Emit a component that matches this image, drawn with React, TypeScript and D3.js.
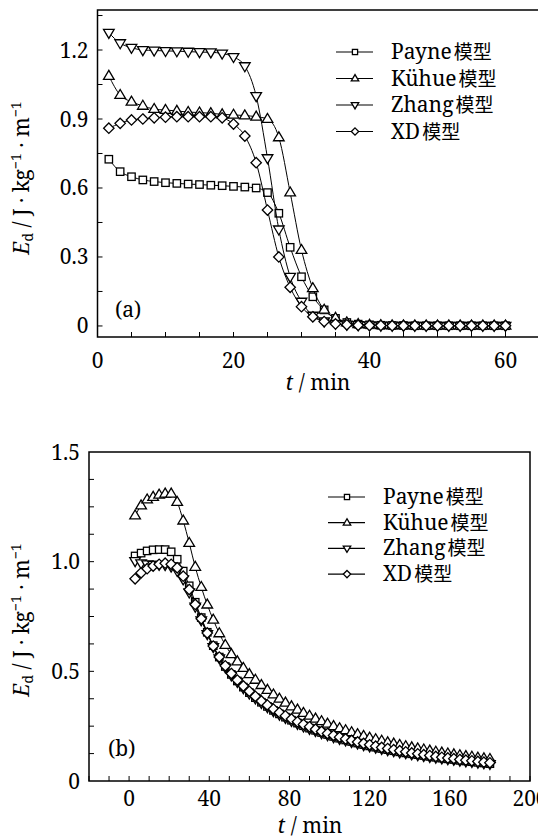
import React from "react";
import * as d3 from "d3";

// ---------- Panel (a) data: t = k*100 s (k = 1..36), in minutes ----------
const stepsA = d3.range(1, 37);
const timeA = stepsA.map((k) => (k * 100) / 60);
const payneA = [0.725, 0.671, 0.649, 0.635, 0.628, 0.623, 0.620, 0.617, 0.615, 0.612, 0.610, 0.607, 0.604, 0.600, 0.580, 0.490, 0.342, 0.214, 0.127, 0.070, 0.033, 0.015, 0.008, 0.005, 0.003, 0.002, 0.002, 0.001, 0.001, 0.001, 0.001, 0.001, 0.001, 0.001, 0.001, 0.001];
const kuhueA = [1.087, 1.004, 0.975, 0.957, 0.943, 0.939, 0.935, 0.930, 0.928, 0.925, 0.920, 0.918, 0.915, 0.910, 0.900, 0.820, 0.580, 0.330, 0.164, 0.070, 0.035, 0.015, 0.008, 0.005, 0.003, 0.002, 0.002, 0.001, 0.001, 0.001, 0.001, 0.001, 0.001, 0.001, 0.001, 0.001];
const zhangA = [1.275, 1.230, 1.210, 1.200, 1.198, 1.196, 1.195, 1.193, 1.191, 1.190, 1.185, 1.170, 1.130, 1.000, 0.730, 0.420, 0.214, 0.106, 0.045, 0.020, 0.010, 0.006, 0.004, 0.003, 0.002, 0.002, 0.001, 0.001, 0.001, 0.001, 0.001, 0.001, 0.001, 0.001, 0.001, 0.001];
const xdA = [0.860, 0.881, 0.896, 0.900, 0.905, 0.908, 0.910, 0.910, 0.910, 0.910, 0.905, 0.878, 0.826, 0.710, 0.504, 0.300, 0.168, 0.084, 0.040, 0.019, 0.009, 0.005, 0.003, 0.002, 0.002, 0.001, 0.001, 0.001, 0.001, 0.001, 0.001, 0.001, 0.001, 0.001, 0.001, 0.001];

// ---------- Panel (b) data: t = 3..180 min ----------
const timeB = d3.range(3, 181, 3);
const payneB = [1.026, 1.039, 1.049, 1.054, 1.055, 1.055, 1.045, 1.011, 0.957, 0.890, 0.815, 0.745, 0.678, 0.617, 0.565, 0.522, 0.486, 0.456, 0.428, 0.403, 0.380, 0.359, 0.340, 0.322, 0.306, 0.291, 0.277, 0.264, 0.252, 0.241, 0.231, 0.221, 0.212, 0.203, 0.195, 0.187, 0.180, 0.173, 0.166, 0.160, 0.154, 0.148, 0.143, 0.138, 0.133, 0.128, 0.124, 0.120, 0.116, 0.112, 0.108, 0.104, 0.101, 0.098, 0.094, 0.091, 0.088, 0.085, 0.082, 0.079];
const kuhueB = [1.210, 1.256, 1.283, 1.295, 1.305, 1.310, 1.310, 1.272, 1.187, 1.085, 0.976, 0.884, 0.804, 0.735, 0.673, 0.620, 0.578, 0.545, 0.515, 0.487, 0.461, 0.437, 0.415, 0.394, 0.375, 0.357, 0.340, 0.325, 0.310, 0.297, 0.284, 0.272, 0.261, 0.250, 0.240, 0.231, 0.222, 0.213, 0.205, 0.197, 0.190, 0.183, 0.176, 0.170, 0.164, 0.158, 0.153, 0.148, 0.143, 0.138, 0.133, 0.129, 0.125, 0.121, 0.117, 0.113, 0.110, 0.106, 0.103, 0.100];
const zhangB = [1.003, 0.993, 0.988, 0.986, 0.986, 0.985, 0.978, 0.958, 0.920, 0.860, 0.795, 0.733, 0.670, 0.611, 0.560, 0.518, 0.482, 0.452, 0.424, 0.399, 0.377, 0.356, 0.337, 0.319, 0.303, 0.288, 0.274, 0.261, 0.249, 0.238, 0.228, 0.218, 0.209, 0.200, 0.192, 0.185, 0.178, 0.171, 0.164, 0.158, 0.152, 0.147, 0.141, 0.136, 0.131, 0.127, 0.122, 0.118, 0.114, 0.110, 0.107, 0.103, 0.100, 0.097, 0.093, 0.090, 0.087, 0.084, 0.081, 0.078];
const xdB = [0.922, 0.949, 0.968, 0.980, 0.988, 0.993, 0.988, 0.972, 0.934, 0.873, 0.805, 0.740, 0.675, 0.615, 0.565, 0.525, 0.490, 0.460, 0.433, 0.409, 0.386, 0.365, 0.346, 0.328, 0.312, 0.297, 0.283, 0.270, 0.258, 0.247, 0.236, 0.226, 0.217, 0.208, 0.200, 0.192, 0.185, 0.178, 0.171, 0.165, 0.159, 0.153, 0.148, 0.143, 0.138, 0.133, 0.128, 0.124, 0.120, 0.116, 0.112, 0.108, 0.105, 0.102, 0.098, 0.095, 0.092, 0.089, 0.086, 0.083];

const seriesLatin = ["Payne", "Kühue", "Zhang", "XD"];
const seriesSuffix = "模型";
const markerKinds = ["square", "up", "down", "diamond"];

const ticksAxMajor = [0, 20, 40, 60];
const ticksAyMajor = [0, 0.3, 0.6, 0.9, 1.2];
const ticksBxMajor = [0, 40, 80, 120, 160, 200];
const ticksByMajor = [0, 0.5, 1.0, 1.5];
const tickLabelsBy = ["0", "0.5", "1.0", "1.5"];

const SERIF = { fontFamily: "Noto Serif" };
const CJKF = { fontFamily: "Noto Sans CJK SC" };
const FS = 21;

function Marker({ kind, x, y, s = 1 }: { kind: string; x: number; y: number; s?: number }) {
  const common = { fill: "#fff", stroke: "#000", strokeWidth: 1.3 };
  if (kind === "square") {
    const h = 3.7 * s;
    return <rect x={x - h} y={y - h} width={2 * h} height={2 * h} {...common} />;
  }
  if (kind === "up") {
    const r = 5.6 * s;
    const pts = [[x, y - r], [x - r * 0.95, y + r * 0.6], [x + r * 0.95, y + r * 0.6]];
    return <polygon points={pts.map((p) => p.join(",")).join(" ")} {...common} />;
  }
  if (kind === "down") {
    const r = 5.6 * s;
    const pts = [[x, y + r], [x - r * 0.95, y - r * 0.6], [x + r * 0.95, y - r * 0.6]];
    return <polygon points={pts.map((p) => p.join(",")).join(" ")} {...common} />;
  }
  const r = 5.2 * s;
  const pts = [[x, y - r], [x + r, y], [x, y + r], [x - r, y]];
  return <polygon points={pts.map((p) => p.join(",")).join(" ")} {...common} />;
}

function YLabel({ x, y }: { x: number; y: number }) {
  return (
    <text transform={`translate(${x},${y}) rotate(-90)`} textAnchor="middle" style={SERIF} fontSize={FS}>
      <tspan fontStyle="italic">E</tspan>
      <tspan fontSize={14} dy={4}>d</tspan>
      <tspan dy={-4}> / J · kg</tspan>
      <tspan fontSize={14} dy={-8}>−1</tspan>
      <tspan dy={8}> · m</tspan>
      <tspan fontSize={14} dy={-8}>−1</tspan>
    </text>
  );
}

function Panel({
  xs, ys, times, data, xMajor, xMinorStep, yMajor, yMinorStep, yLabels, xLabels, xLabelGap,
  legend, tag, tagPos, xTitle, yTitlePos,
}: any) {
  const [x0, x1] = xs.range();
  const [yb, yt] = ys.range();
  const line = d3.line<number>().x((_, i) => xs(times[i])).y((d) => ys(d)).curve(d3.curveMonotoneX);
  const xd = xs.domain();
  const yd = ys.domain();
  const xMinor = d3.range(Math.ceil(xd[0] / xMinorStep) * xMinorStep, xd[1] + 1e-9, xMinorStep);
  const yMinor = d3.range(Math.ceil((yd[0] + 1e-6) / yMinorStep) * yMinorStep, yd[1] - 0.01, yMinorStep);
  const tl = 5;
  return (
    <g>
      {data.map((vals: number[], si: number) => (
        <g key={si}>
          <path d={line(vals) as string} fill="none" stroke="#000" strokeWidth={1} />
          {vals.map((v, i) => (
            <Marker key={i} kind={markerKinds[si]} x={xs(times[i])} y={ys(v)} />
          ))}
        </g>
      ))}
      <rect x={x0} y={yt} width={x1 - x0} height={yb - yt} fill="none" stroke="#000" strokeWidth={1.5} />
      {xMinor.map((t: number, i: number) => (
        <line key={"xm" + i} x1={xs(t)} x2={xs(t)} y1={yb} y2={yb - tl} stroke="#000" strokeWidth={1} />
      ))}
      {xMajor.map((t: number, i: number) => (
        <text key={"xl" + i} x={xs(t)} y={yb + xLabelGap} textAnchor="middle" style={SERIF} fontSize={FS}>
          {xLabels[i]}
        </text>
      ))}
      {yMinor.map((t: number, i: number) => (
        <line key={"ym" + i} x1={x0} x2={x0 + tl} y1={ys(t)} y2={ys(t)} stroke="#000" strokeWidth={1} />
      ))}
      {yMajor.map((t: number, i: number) => (
        <text key={"yl" + i} x={x0 - 9} y={ys(t) + 7.5} textAnchor="end" style={SERIF} fontSize={FS}>
          {yLabels[i]}
        </text>
      ))}
      {seriesLatin.map((n, i) => (
        <g key={"lg" + i}>
          <line x1={legend.x} x2={legend.x + 37} y1={legend.y + i * legend.dy} y2={legend.y + i * legend.dy} stroke="#000" strokeWidth={1.2} />
          <Marker kind={markerKinds[i]} x={legend.x + 19} y={legend.y + i * legend.dy} s={0.7} />
          <text x={legend.x + 55} y={legend.y + i * legend.dy + 7} style={SERIF} fontSize={FS}>
            {n}
            <tspan style={CJKF} fontSize={19} dx={2}>{seriesSuffix}</tspan>
          </text>
        </g>
      ))}
      <text x={tagPos[0]} y={tagPos[1]} style={SERIF} fontSize={FS}>{tag}</text>
      <text x={xTitle[0]} y={xTitle[1]} textAnchor="middle" style={SERIF} fontSize={FS}>
        <tspan fontStyle="italic">t</tspan> / min
      </text>
      <YLabel x={yTitlePos[0]} y={yTitlePos[1]} />
    </g>
  );
}

export default function App() {
  const xA = d3.scaleLinear().domain([0, 65]).range([97.5, 539.5]);
  const yA = d3.scaleLinear().domain([-0.048, 1.374]).range([337, 10]);
  const xB = d3.scaleLinear().domain([-20, 200]).range([89, 530]);
  const yB = d3.scaleLinear().domain([0, 1.5]).range([781, 452]);
  return (
    <svg width={538} height={840} style={{ position: "absolute", left: 0, top: 0, background: "#fff" }}>
      <rect width={538} height={840} fill="#fff" />
      <Panel
        xs={xA} ys={yA} times={timeA} data={[payneA, kuhueA, zhangA, xdA]}
        xMajor={ticksAxMajor} xLabels={ticksAxMajor.map(String)} xMinorStep={5} xLabelGap={31}
        yMajor={ticksAyMajor} yLabels={ticksAyMajor.map((v) => (v === 0 ? "0" : v.toFixed(1)))} yMinorStep={0.15}
        legend={{ x: 336, y: 52, dy: 26.5 }} tag="(a)" tagPos={[115, 317]}
        xTitle={[318, 390]} yTitlePos={[29, 178]}
      />
      <Panel
        xs={xB} ys={yB} times={timeB} data={[payneB, kuhueB, zhangB, xdB]}
        xMajor={ticksBxMajor} xLabels={ticksBxMajor.map(String)} xMinorStep={10} xLabelGap={25}
        yMajor={ticksByMajor} yLabels={tickLabelsBy} yMinorStep={0.125}
        legend={{ x: 328, y: 497, dy: 25.7 }} tag="(b)" tagPos={[108, 756]}
        xTitle={[310, 833]} yTitlePos={[29, 620]}
      />
    </svg>
  );
}
